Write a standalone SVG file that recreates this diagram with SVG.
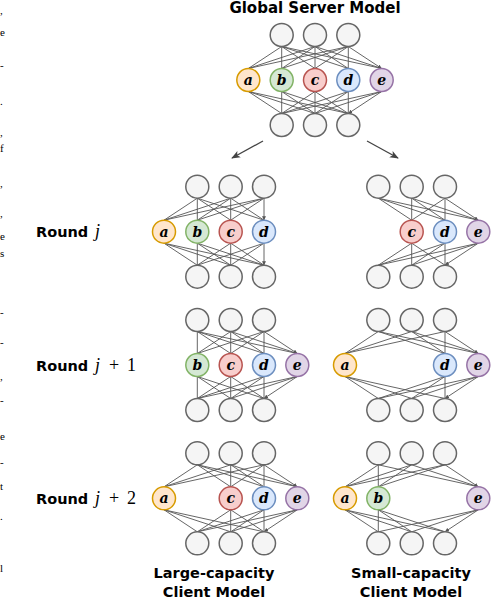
<svg xmlns="http://www.w3.org/2000/svg" width="492" height="602" viewBox="0 0 492 602">
<defs>
<style>
.g{fill:#f5f5f5;stroke:#666666;stroke-width:1.5}
.na{fill:#ffe6cc;stroke:#d79b00;stroke-width:1.5}
.nb{fill:#d5e8d4;stroke:#82b366;stroke-width:1.5}
.nc{fill:#f8cecc;stroke:#b85450;stroke-width:1.5}
.nd{fill:#dae8fc;stroke:#6c8ebf;stroke-width:1.5}
.ne{fill:#e1d5e7;stroke:#9673a6;stroke-width:1.5}
.lab{font-family:"DejaVu Serif","Liberation Serif",serif;font-style:italic;font-weight:bold;font-size:14px;text-anchor:middle;fill:#000}
.ttl{font-family:"DejaVu Sans",Verdana,sans-serif;font-weight:bold;font-size:14.5px;fill:#000}
.m{font-family:"Liberation Serif",serif;font-size:18px;fill:#000}
.mi{font-style:italic}
.e{stroke:#555555;stroke-width:0.9;fill:none;marker-end:url(#ah)}
.side{font-family:"Liberation Serif",serif;font-size:11px;fill:#000}
</style>
<marker id="ah" viewBox="0 0 6 6" refX="6" refY="3" markerWidth="4" markerHeight="4" orient="auto" markerUnits="userSpaceOnUse"><path d="M0,0 L6,3 L0,6 z" fill="#555555"/></marker>
<marker id="big" viewBox="0 0 10 10" refX="9" refY="5" markerWidth="9" markerHeight="9" orient="auto" markerUnits="userSpaceOnUse"><path d="M0,1 L10,5 L0,9 L2.5,5 z" fill="#444444"/></marker>
</defs>
<rect width="492" height="602" fill="#ffffff"/>

<g id="side-text">
<text class="side" x="0" y="14">,</text>
<text class="side" x="0" y="36">e</text>
<text class="side" x="0" y="69">-</text>
<text class="side" x="0" y="105">.</text>
<text class="side" x="0" y="136">,</text>
<text class="side" x="0" y="152">f</text>
<text class="side" x="0" y="187">,</text>
<text class="side" x="0" y="217">,</text>
<text class="side" x="0" y="240">e</text>
<text class="side" x="0" y="257">s</text>
<text class="side" x="0" y="316">-</text>
<text class="side" x="0" y="346">-</text>
<text class="side" x="0" y="380">,</text>
<text class="side" x="0" y="404">-</text>
<text class="side" x="0" y="440">e</text>
<text class="side" x="0" y="466">-</text>
<text class="side" x="0" y="490">t</text>
<text class="side" x="0" y="520">.</text>
<text class="side" x="0" y="572">l</text>
</g>

<g id="titles">
<text class="ttl" x="315" y="13" text-anchor="middle" style="font-size:15px">Global Server Model</text>
<text class="ttl" x="214" y="578" text-anchor="middle">Large-capacity</text>
<text class="ttl" x="214" y="597" text-anchor="middle">Client Model</text>
<text class="ttl" x="411" y="578" text-anchor="middle">Small-capacity</text>
<text class="ttl" x="411" y="597" text-anchor="middle">Client Model</text>
</g>
<g id="round-labels">
<text class="ttl" x="36" y="237">Round</text><text class="m mi" x="95" y="237">j</text>
<text class="ttl" x="36" y="371">Round</text><text class="m mi" x="95" y="371">j</text><text class="m" x="109" y="371">+</text><text class="m" x="127" y="371">1</text>
<text class="ttl" x="36" y="504">Round</text><text class="m mi" x="95" y="504">j</text><text class="m" x="109" y="504">+</text><text class="m" x="127" y="504">2</text>
</g>

<g id="connectors">
<line x1="263" y1="141" x2="232" y2="158" stroke="#444" stroke-width="1.3" marker-end="url(#big)"/>
<line x1="367" y1="141" x2="398" y2="158" stroke="#444" stroke-width="1.3" marker-end="url(#big)"/>
<g id="edges-global">
<path class="e" d="M281.7,46.5L248.3,68.5M315,46.5L248.3,68.5M348.3,46.5L248.3,68.5M281.7,46.5L281.7,68.5M315,46.5L281.7,68.5M348.3,46.5L281.7,68.5M281.7,46.5L315,68.5M315,46.5L315,68.5M348.3,46.5L315,68.5M281.7,46.5L348.3,68.5M315,46.5L348.3,68.5M348.3,46.5L348.3,68.5M281.7,46.5L381.7,68.5M315,46.5L381.7,68.5M348.3,46.5L381.7,68.5"/>
<path class="e" d="M248.3,91.5L281.7,113.5M248.3,91.5L315,113.5M248.3,91.5L348.3,113.5M281.7,91.5L281.7,113.5M281.7,91.5L315,113.5M281.7,91.5L348.3,113.5M315,91.5L281.7,113.5M315,91.5L315,113.5M315,91.5L348.3,113.5M348.3,91.5L281.7,113.5M348.3,91.5L315,113.5M348.3,91.5L348.3,113.5M381.7,91.5L281.7,113.5M381.7,91.5L315,113.5M381.7,91.5L348.3,113.5"/>
</g>
<g id="edges-rj-left">
<path class="e" d="M197.3,198.2L164,220.2M230.7,198.2L164,220.2M264,198.2L164,220.2M197.3,198.2L197.3,220.2M230.7,198.2L197.3,220.2M264,198.2L197.3,220.2M197.3,198.2L230.7,220.2M230.7,198.2L230.7,220.2M264,198.2L230.7,220.2M197.3,198.2L264,220.2M230.7,198.2L264,220.2M264,198.2L264,220.2"/>
<path class="e" d="M164,243.2L197.3,265.2M164,243.2L230.7,265.2M164,243.2L264,265.2M197.3,243.2L197.3,265.2M197.3,243.2L230.7,265.2M197.3,243.2L264,265.2M230.7,243.2L197.3,265.2M230.7,243.2L230.7,265.2M230.7,243.2L264,265.2M264,243.2L197.3,265.2M264,243.2L230.7,265.2M264,243.2L264,265.2"/>
</g>
<g id="edges-rj-right">
<path class="e" d="M378.3,198.2L411.7,220.2M411.7,198.2L411.7,220.2M445,198.2L411.7,220.2M378.3,198.2L445,220.2M411.7,198.2L445,220.2M445,198.2L445,220.2M378.3,198.2L478.3,220.2M411.7,198.2L478.3,220.2M445,198.2L478.3,220.2"/>
<path class="e" d="M411.7,243.2L378.3,265.2M411.7,243.2L411.7,265.2M411.7,243.2L445,265.2M445,243.2L378.3,265.2M445,243.2L411.7,265.2M445,243.2L445,265.2M478.3,243.2L378.3,265.2M478.3,243.2L411.7,265.2M478.3,243.2L445,265.2"/>
</g>
<g id="edges-rj1-left">
<path class="e" d="M197.3,331.5L197.3,353.5M230.7,331.5L197.3,353.5M264,331.5L197.3,353.5M197.3,331.5L230.7,353.5M230.7,331.5L230.7,353.5M264,331.5L230.7,353.5M197.3,331.5L264,353.5M230.7,331.5L264,353.5M264,331.5L264,353.5M197.3,331.5L297.3,353.5M230.7,331.5L297.3,353.5M264,331.5L297.3,353.5"/>
<path class="e" d="M197.3,376.5L197.3,398.5M197.3,376.5L230.7,398.5M197.3,376.5L264,398.5M230.7,376.5L197.3,398.5M230.7,376.5L230.7,398.5M230.7,376.5L264,398.5M264,376.5L197.3,398.5M264,376.5L230.7,398.5M264,376.5L264,398.5M297.3,376.5L197.3,398.5M297.3,376.5L230.7,398.5M297.3,376.5L264,398.5"/>
</g>
<g id="edges-rj1-right">
<path class="e" d="M378.3,331.5L345,353.5M411.7,331.5L345,353.5M445,331.5L345,353.5M378.3,331.5L445,353.5M411.7,331.5L445,353.5M445,331.5L445,353.5M378.3,331.5L478.3,353.5M411.7,331.5L478.3,353.5M445,331.5L478.3,353.5"/>
<path class="e" d="M345,376.5L378.3,398.5M345,376.5L411.7,398.5M345,376.5L445,398.5M445,376.5L378.3,398.5M445,376.5L411.7,398.5M445,376.5L445,398.5M478.3,376.5L378.3,398.5M478.3,376.5L411.7,398.5M478.3,376.5L445,398.5"/>
</g>
<g id="edges-rj2-left">
<path class="e" d="M197.3,464.8L164,486.8M230.7,464.8L164,486.8M264,464.8L164,486.8M197.3,464.8L230.7,486.8M230.7,464.8L230.7,486.8M264,464.8L230.7,486.8M197.3,464.8L264,486.8M230.7,464.8L264,486.8M264,464.8L264,486.8M197.3,464.8L297.3,486.8M230.7,464.8L297.3,486.8M264,464.8L297.3,486.8"/>
<path class="e" d="M164,509.8L197.3,531.8M164,509.8L230.7,531.8M164,509.8L264,531.8M230.7,509.8L197.3,531.8M230.7,509.8L230.7,531.8M230.7,509.8L264,531.8M264,509.8L197.3,531.8M264,509.8L230.7,531.8M264,509.8L264,531.8M297.3,509.8L197.3,531.8M297.3,509.8L230.7,531.8M297.3,509.8L264,531.8"/>
</g>
<g id="edges-rj2-right">
<path class="e" d="M378.3,464.8L345,486.8M411.7,464.8L345,486.8M445,464.8L345,486.8M378.3,464.8L378.3,486.8M411.7,464.8L378.3,486.8M445,464.8L378.3,486.8M378.3,464.8L478.3,486.8M411.7,464.8L478.3,486.8M445,464.8L478.3,486.8"/>
<path class="e" d="M345,509.8L378.3,531.8M345,509.8L411.7,531.8M345,509.8L445,531.8M378.3,509.8L378.3,531.8M378.3,509.8L411.7,531.8M378.3,509.8L445,531.8M478.3,509.8L378.3,531.8M478.3,509.8L411.7,531.8M478.3,509.8L445,531.8"/>
</g>
</g>

<g id="global">
<circle class="g" cx="281.7" cy="35" r="11.5"/><circle class="g" cx="315" cy="35" r="11.5"/><circle class="g" cx="348.3" cy="35" r="11.5"/>
<circle class="na" cx="248.3" cy="80" r="11.5"/><text class="lab" x="248.3" y="85">a</text>
<circle class="nb" cx="281.7" cy="80" r="11.5"/><text class="lab" x="281.7" y="85">b</text>
<circle class="nc" cx="315" cy="80" r="11.5"/><text class="lab" x="315" y="85">c</text>
<circle class="nd" cx="348.3" cy="80" r="11.5"/><text class="lab" x="348.3" y="85">d</text>
<circle class="ne" cx="381.7" cy="80" r="11.5"/><text class="lab" x="381.7" y="85">e</text>
<circle class="g" cx="281.7" cy="125" r="11.5"/><circle class="g" cx="315" cy="125" r="11.5"/><circle class="g" cx="348.3" cy="125" r="11.5"/>
</g>

<g id="round-j-large">
<circle class="g" cx="197.3" cy="186.7" r="11.5"/><circle class="g" cx="230.7" cy="186.7" r="11.5"/><circle class="g" cx="264" cy="186.7" r="11.5"/>
<circle class="na" cx="164" cy="231.7" r="11.5"/><text class="lab" x="164" y="236.7">a</text>
<circle class="nb" cx="197.3" cy="231.7" r="11.5"/><text class="lab" x="197.3" y="236.7">b</text>
<circle class="nc" cx="230.7" cy="231.7" r="11.5"/><text class="lab" x="230.7" y="236.7">c</text>
<circle class="nd" cx="264" cy="231.7" r="11.5"/><text class="lab" x="264" y="236.7">d</text>
<circle class="g" cx="197.3" cy="276.7" r="11.5"/><circle class="g" cx="230.7" cy="276.7" r="11.5"/><circle class="g" cx="264" cy="276.7" r="11.5"/>
</g>

<g id="round-j-small">
<circle class="g" cx="378.3" cy="186.7" r="11.5"/><circle class="g" cx="411.7" cy="186.7" r="11.5"/><circle class="g" cx="445" cy="186.7" r="11.5"/>
<circle class="nc" cx="411.7" cy="231.7" r="11.5"/><text class="lab" x="411.7" y="236.7">c</text>
<circle class="nd" cx="445" cy="231.7" r="11.5"/><text class="lab" x="445" y="236.7">d</text>
<circle class="ne" cx="478.3" cy="231.7" r="11.5"/><text class="lab" x="478.3" y="236.7">e</text>
<circle class="g" cx="378.3" cy="276.7" r="11.5"/><circle class="g" cx="411.7" cy="276.7" r="11.5"/><circle class="g" cx="445" cy="276.7" r="11.5"/>
</g>

<g id="round-j1-large">
<circle class="g" cx="197.3" cy="320" r="11.5"/><circle class="g" cx="230.7" cy="320" r="11.5"/><circle class="g" cx="264" cy="320" r="11.5"/>
<circle class="nb" cx="197.3" cy="365" r="11.5"/><text class="lab" x="197.3" y="370">b</text>
<circle class="nc" cx="230.7" cy="365" r="11.5"/><text class="lab" x="230.7" y="370">c</text>
<circle class="nd" cx="264" cy="365" r="11.5"/><text class="lab" x="264" y="370">d</text>
<circle class="ne" cx="297.3" cy="365" r="11.5"/><text class="lab" x="297.3" y="370">e</text>
<circle class="g" cx="197.3" cy="410" r="11.5"/><circle class="g" cx="230.7" cy="410" r="11.5"/><circle class="g" cx="264" cy="410" r="11.5"/>
</g>

<g id="round-j1-small">
<circle class="g" cx="378.3" cy="320" r="11.5"/><circle class="g" cx="411.7" cy="320" r="11.5"/><circle class="g" cx="445" cy="320" r="11.5"/>
<circle class="na" cx="345" cy="365" r="11.5"/><text class="lab" x="345" y="370">a</text>
<circle class="nd" cx="445" cy="365" r="11.5"/><text class="lab" x="445" y="370">d</text>
<circle class="ne" cx="478.3" cy="365" r="11.5"/><text class="lab" x="478.3" y="370">e</text>
<circle class="g" cx="378.3" cy="410" r="11.5"/><circle class="g" cx="411.7" cy="410" r="11.5"/><circle class="g" cx="445" cy="410" r="11.5"/>
</g>

<g id="round-j2-large">
<circle class="g" cx="197.3" cy="453.3" r="11.5"/><circle class="g" cx="230.7" cy="453.3" r="11.5"/><circle class="g" cx="264" cy="453.3" r="11.5"/>
<circle class="na" cx="164" cy="498.3" r="11.5"/><text class="lab" x="164" y="503.3">a</text>
<circle class="nc" cx="230.7" cy="498.3" r="11.5"/><text class="lab" x="230.7" y="503.3">c</text>
<circle class="nd" cx="264" cy="498.3" r="11.5"/><text class="lab" x="264" y="503.3">d</text>
<circle class="ne" cx="297.3" cy="498.3" r="11.5"/><text class="lab" x="297.3" y="503.3">e</text>
<circle class="g" cx="197.3" cy="543.3" r="11.5"/><circle class="g" cx="230.7" cy="543.3" r="11.5"/><circle class="g" cx="264" cy="543.3" r="11.5"/>
</g>

<g id="round-j2-small">
<circle class="g" cx="378.3" cy="453.3" r="11.5"/><circle class="g" cx="411.7" cy="453.3" r="11.5"/><circle class="g" cx="445" cy="453.3" r="11.5"/>
<circle class="na" cx="345" cy="498.3" r="11.5"/><text class="lab" x="345" y="503.3">a</text>
<circle class="nb" cx="378.3" cy="498.3" r="11.5"/><text class="lab" x="378.3" y="503.3">b</text>
<circle class="ne" cx="478.3" cy="498.3" r="11.5"/><text class="lab" x="478.3" y="503.3">e</text>
<circle class="g" cx="378.3" cy="543.3" r="11.5"/><circle class="g" cx="411.7" cy="543.3" r="11.5"/><circle class="g" cx="445" cy="543.3" r="11.5"/>
</g>
</svg>
